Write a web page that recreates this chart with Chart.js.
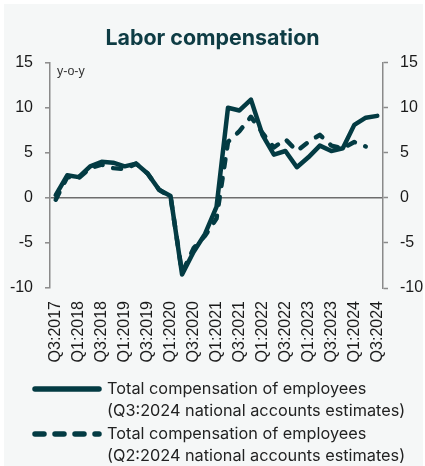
<!DOCTYPE html>
<html>
<head>
<meta charset="utf-8">
<script src="https://cdn.jsdelivr.net/npm/chart.js@4/dist/chart.umd.min.js"></script>
<style>
  html, body { margin: 0; padding: 0; background: #ffffff; }
  #wrap { width: 425px; height: 466px; position: relative; }
</style>
</head>
<body>
<div id="wrap"><canvas id="laborChart" width="425" height="466"></canvas></div>
<script>
// quarters Q3:2017 .. Q3:2024
const quarters = ['Q3:2017', 'Q4:2017', 'Q1:2018', 'Q2:2018', 'Q3:2018', 'Q4:2018',
    'Q1:2019', 'Q2:2019', 'Q3:2019', 'Q4:2019', 'Q1:2020', 'Q2:2020', 'Q3:2020', 'Q4:2020',
    'Q1:2021', 'Q2:2021', 'Q3:2021', 'Q4:2021', 'Q1:2022', 'Q2:2022', 'Q3:2022', 'Q4:2022',
    'Q1:2023', 'Q2:2023', 'Q3:2023', 'Q4:2023', 'Q1:2024', 'Q2:2024', 'Q3:2024'];

// y-o-y %, Q3:2024 estimates
const comp_q3 = [0.3, 2.5, 2.3, 3.5, 4.0, 3.9, 3.5, 3.8, 2.7, 0.9, 0.2, -8.5, -6.0, -4.0,
    -1.0, 10.0, 9.7, 10.9, 7.0, 4.8, 5.2, 3.4, 4.5, 5.8, 5.2, 5.5, 8.1, 8.9, 9.1];

// y-o-y %, Q2:2024 estimates (ends one quarter earlier)
const comp_q2 = [-0.2, 2.3, 2.2, 3.3, 3.7, 3.3, 3.2, 3.8, 2.7, 0.9, 0.1, -8.3, -5.6, -4.2,
    -2.3, 6.2, 7.4, 9.0, 7.2, 5.6, 6.5, 5.2, 6.2, 7.0, 5.8, 5.5, 6.2, 5.7, null];

const legendLabels = [
    ['Total compensation of employees', '(Q3:2024 national accounts estimates)'],
    ['Total compensation of employees', '(Q2:2024 national accounts estimates)']
];

const yTicks = { min: -10, max: 15, step: 5 };

const teal = '#033b43';
const axisGray = '#8a8a8a';
const tickFont = { family: "'Liberation Sans', Arial, sans-serif", size: 16 };

// light grey panel behind everything
const panelBg = {
    id: 'panelBg',
    beforeDraw(chart) {
        const c = chart.ctx;
        c.save();
        c.fillStyle = '#f5f7f7';
        c.fillRect(4, 4, 419, 462);
        c.restore();
    }
};

// unit note + line-style legend at the bottom
const extras = {
    id: 'extras',
    afterDraw(chart) {
        const c = chart.ctx;
        const area = chart.chartArea;
        c.save();
        c.fillStyle = '#333';
        c.font = "12.5px 'Liberation Sans', Arial, sans-serif";
        c.textBaseline = 'middle';
        c.fillText('y-o-y', area.left + 7, area.top + 9);

        const rows = [389, 434];
        chart.data.datasets.forEach((ds, i) => {
            const y = rows[i];
            c.beginPath();
            c.strokeStyle = ds.borderColor;
            c.lineWidth = 5.5;
            c.lineCap = 'round';
            c.setLineDash(ds.borderDash ? [9, 11] : []);
            c.moveTo(35, y);
            c.lineTo(99, y);
            c.stroke();
            c.setLineDash([]);
            c.fillStyle = '#222';
            c.font = "16.3px Inter, 'Open Sans', sans-serif";
            legendLabels[i].forEach((t, k) => c.fillText(t, 107, y + k * 22.5));
        });
        c.restore();
    }
};

const ctx = document.getElementById('laborChart').getContext('2d');
const laborChart = new Chart(ctx, {
    type: 'line',
    data: {
        labels: quarters,
        datasets: [{
            label: legendLabels[0].join(' '),
            data: comp_q3,
            borderColor: teal,
            borderWidth: 4.5,
            pointRadius: 0,
            tension: 0,
            borderJoinStyle: 'round',
            borderCapStyle: 'round',
            yAxisID: 'y'
        }, {
            label: legendLabels[1].join(' '),
            data: comp_q2,
            borderColor: teal,
            borderWidth: 4.5,
            borderDash: [8, 11],
            borderCapStyle: 'round',
            borderJoinStyle: 'round',
            pointRadius: 0,
            tension: 0,
            yAxisID: 'y'
        }]
    },
    options: {
        responsive: false,
        animation: false,
        layout: { padding: { top: 0, left: 0, right: 0, bottom: 96 } },
        plugins: {
            legend: { display: false },
            tooltip: { enabled: false },
            title: {
                display: true,
                text: 'Labor compensation',
                color: '#0e3c44',
                font: { family: "Inter, 'Open Sans', sans-serif", size: 21.4, weight: 'bold', lineHeight: 1.2 },
                padding: { top: 26, bottom: 11 }
            }
        },
        scales: {
            x: {
                offset: true,
                grid: { display: false, drawTicks: false },
                border: { display: false },
                ticks: {
                    autoSkip: false,
                    minRotation: 90,
                    maxRotation: 90,
                    padding: 13,
                    color: '#1a1a1a',
                    font: tickFont,
                    callback: (v, i) => (i % 2 === 0 ? quarters[i] : '')
                },
                afterFit: s => { s.height = 82; }
            },
            y: {
                position: 'left',
                min: yTicks.min,
                max: yTicks.max,
                ticks: { stepSize: yTicks.step, padding: 12, color: '#1a1a1a', font: tickFont },
                grid: {
                    color: c => (c.tick && c.tick.value === 0 ? '#6d6d6d' : 'transparent'),
                    lineWidth: 1.6,
                    tickColor: axisGray,
                    tickLength: 5,
                    tickWidth: 1.5
                },
                border: { display: true, color: axisGray, width: 1.5 },
                afterFit: s => { s.width = 50; }
            },
            y2: {
                position: 'right',
                min: yTicks.min,
                max: yTicks.max,
                ticks: { stepSize: yTicks.step, padding: 12, color: '#1a1a1a', font: tickFont },
                grid: {
                    drawOnChartArea: false,
                    tickColor: axisGray,
                    tickLength: 5,
                    tickWidth: 1.5
                },
                border: { display: true, color: axisGray, width: 1.5 },
                afterFit: s => { s.width = 42; }
            }
        }
    },
    plugins: [panelBg, extras]
});
</script>
</body>
</html>
